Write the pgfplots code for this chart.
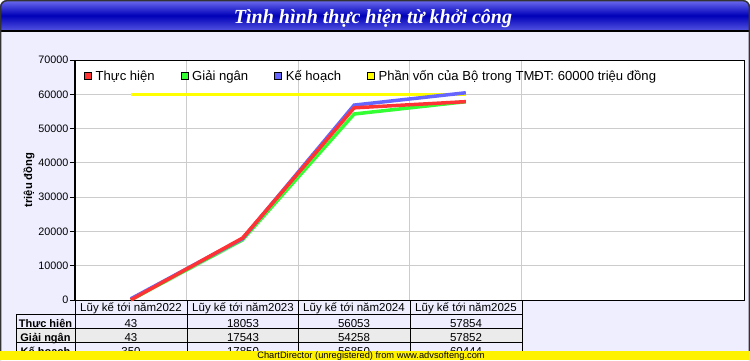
\documentclass[border=0pt]{standalone}
\usepackage{pgfplots}
\pgfplotsset{compat=1.18}
\usepackage{pgfplotstable}
\usepackage{fontspec}
\setmainfont{Liberation Sans}
\newfontfamily\titlefont{Liberation Serif}
\definecolor{bgc}{RGB}{238,238,255}
\definecolor{cRed}{RGB}{255,51,51}
\definecolor{cGreen}{RGB}{51,255,51}
\definecolor{cBlue}{RGB}{102,102,255}
\definecolor{cYellow}{RGB}{255,255,0}
\definecolor{gridc}{RGB}{204,204,204}
\definecolor{rowgray}{RGB}{235,235,235}
\definecolor{tTop}{RGB}{110,110,240}
\definecolor{tMid}{RGB}{0,0,185}
\definecolor{tBot}{RGB}{85,85,225}

\pgfplotstableread{
x thuchien giaingan kehoach phanvon
0 43 43 350 60000
1 18053 17543 17850 60000
2 56053 54258 56850 60000
3 57854 57852 60444 60000
}\datatable

\newcommand{\fs}[1]{\fontsize{#1}{#1}\selectfont}
\pgfplotsset{sqleg/.style={legend image code/.code={\filldraw[draw=black,fill=#1,line width=0.8pt] (0pt,-3.6pt) rectangle (7.2pt,3.6pt);}}}

\begin{document}
\begin{tikzpicture}[x=1pt,y=1pt]
\useasboundingbox (0,0) rectangle (750,360);
% background
\fill[bgc] (0,0) rectangle (750,329);
% title bar
\shade[top color=tTop, bottom color=tBot, middle color=tMid]
  (0,329) -- (0,353) arc[start angle=180,end angle=90,radius=7] -- (743,360)
  arc[start angle=90,end angle=0,radius=7] -- (750,329) -- cycle;
\draw[black,line width=1.2pt] (0,329) -- (750,329);
\draw[black!80,line width=1.4pt] (0.7,0) -- (0.7,353) arc[start angle=180,end angle=90,radius=6.3] -- (743,359.3)
  arc[start angle=90,end angle=0,radius=6.3] -- (749.3,0);
\node[text=white,anchor=base] at (373,337) {\titlefont\bfseries\itshape\fs{20}Tình hình thực hiện từ khởi công};

% table backgrounds
\fill[rowgray] (16,18) rectangle (522,32);

\begin{axis}[
  at={(75pt,60pt)}, anchor=south west,
  scale only axis, width=670pt, height=240pt,
  xmin=-0.5, xmax=5.5, ymin=0, ymax=70000,
  axis background/.style={fill=white},
  xtick={0.5,1.5,2.5,3.5}, xticklabels={}, xmajorgrids,
  xtick style={draw=none},
  ytick={0,10000,...,70000}, ymajorgrids,
  grid style={gridc, line width=1pt},
  tick align=outside, major tick length=5pt, ytick pos=left,
  ytick style={black,line width=0.9pt},
  axis line style={black, line width=1pt},
  scaled y ticks=false,
  yticklabel style={font=\fs{10.8}, inner sep=1.5pt,
    /pgf/number format/fixed, /pgf/number format/1000 sep={},
    /pgf/number format/assume math mode=true},
  legend style={at={(rel axis cs:0,1)}, anchor=north west, xshift=7pt, yshift=-6pt,
    draw=none, fill=none, font=\fs{13.1}, legend columns=4,
    /tikz/every even column/.append style={column sep=24pt},
    /tikz/every odd column/.append style={column sep=1.5pt},
    inner sep=2pt},
  legend cell align=left,
  clip=false,
]
\addplot[cYellow, line width=3.5pt, forget plot] table[x=x,y=phanvon] {\datatable};
\addplot[cGreen, line width=3.5pt, forget plot] table[x=x,y=giaingan] {\datatable};
\addplot[cBlue, line width=3.5pt, forget plot] table[x=x,y=kehoach] {\datatable};
\addplot[cRed, line width=3.5pt, forget plot] table[x=x,y=thuchien] {\datatable};
\addlegendimage{sqleg=cRed}\addlegendentry{Thực hiện}
\addlegendimage{sqleg=cGreen}\addlegendentry{Giải ngân}
\addlegendimage{sqleg=cBlue}\addlegendentry{Kế hoạch}
\addlegendimage{sqleg=cYellow}\addlegendentry{Phần vốn của Bộ trong TMĐT: 60000 triệu đồng}
\end{axis}
\node[rotate=90,anchor=center] at (29,180) {\fs{11.2}\bfseries triệu đồng};

% table lines
\begin{scope}[black,line width=1pt]
\draw (16,46) -- (522,46);
\draw (16,32) -- (522,32);
\draw (16,18) -- (522,18);
\foreach \xx in {187,298,410,522} \draw (\xx,60) -- (\xx,0);
\draw (75,60) -- (75,0);
\draw (16,46) -- (16,0);
\end{scope}
% header
\foreach \xx/\yy in {131/2022,243/2023,354/2024,466/2025}
  \node[anchor=base,inner sep=0] at (\xx,49) {\fs{11.5}Lũy kế tới năm\yy};
% row labels
\node[anchor=base,inner sep=0] at (45.5,33) {\fs{11}\bfseries Thực hiện};
\node[anchor=base,inner sep=0] at (45.5,19) {\fs{11}\bfseries Giải ngân};
\node[anchor=base,inner sep=0] at (45.5,5) {\fs{11}\bfseries Kế hoạch};
% values
\foreach \xx/\va/\vb/\vc in {131/43/43/350,243/18053/17543/17850,354/56053/54258/56850,466/57854/57852/60444}{
  \node[anchor=base,inner sep=0] at (\xx,33) {\fs{11.5}\va};
  \node[anchor=base,inner sep=0] at (\xx,19) {\fs{11.5}\vb};
  \node[anchor=base,inner sep=0] at (\xx,5) {\fs{11.5}\vc};
}
% bottom banner
\fill[yellow] (0,0) rectangle (750,9);
\node[anchor=base,inner sep=0] at (371,1.8) {\fs{9.3}ChartDirector (unregistered) from www.advsofteng.com};
\end{tikzpicture}
\end{document}
